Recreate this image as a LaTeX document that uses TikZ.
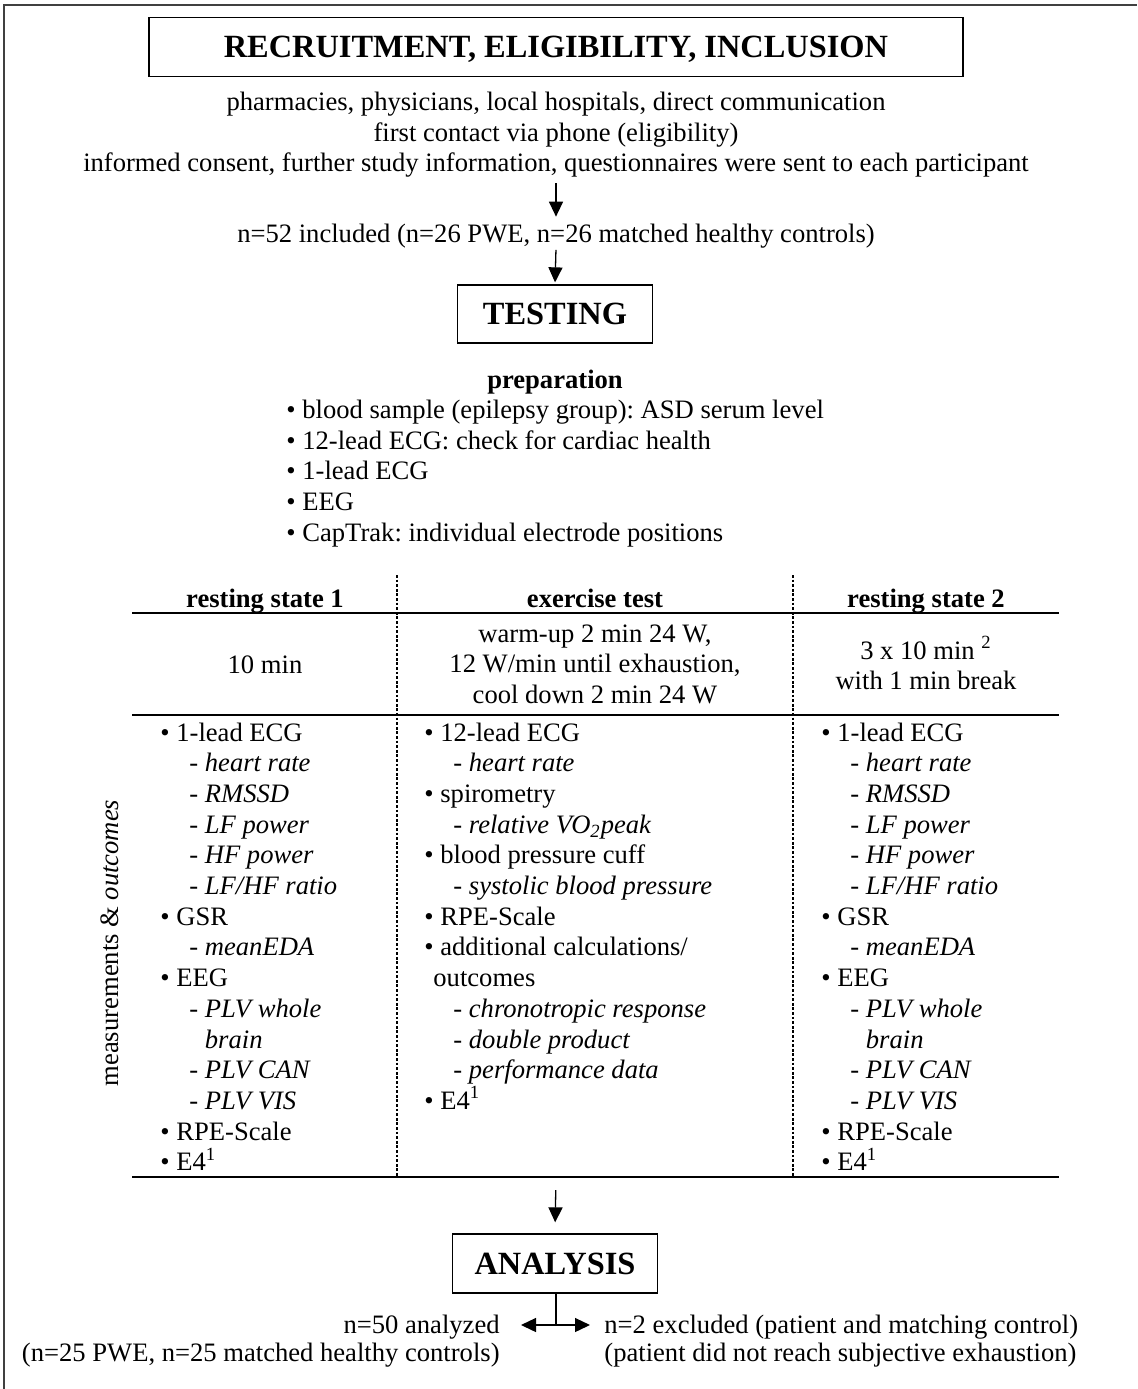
\documentclass[tikz,border=0pt]{standalone}
\usepackage{fontspec}
\setmainfont{Liberation Serif}
\usetikzlibrary{arrows.meta}
\frenchspacing
\newcommand\itB[1]{\textbullet\ #1}
\newcommand\itS[1]{\hspace*{14.5pt}-\ \textit{#1}}
\newcommand\itC[1]{\hspace*{14.5pt}\phantom{-\ }\textit{#1}}
\newcommand\itO[1]{\hspace*{4.5pt}#1}
\begin{document}
\begin{tikzpicture}[x=0.5pt,y=-0.5pt,
  frame/.style={draw=black!75, line width=0.7pt},
  box/.style={draw, line width=0.65pt, inner sep=0pt, font=\fontsize{16.2}{19}\selectfont\bfseries, text height=10.7pt, text depth=0pt},
  body/.style={inner sep=0pt, font=\fontsize{13.3}{15.35}\selectfont\frenchspacing},
  hdr/.style={body, font=\fontsize{13.3}{15.35}\selectfont\bfseries},
  arr/.style={-{Triangle[width=7pt,length=7.5pt]}, line width=0.65pt},
  trule/.style={line width=0.85pt},
  vdots/.style={line width=1pt, dash pattern=on 1.4pt off 0.9pt}]
\useasboundingbox (0,0) rectangle (1137,1389);
% outer frame (only top and left edges visible)
\draw[frame] (4,1389) -- (4,5) -- (1137,5);

% recruitment
\node[box, minimum width=407pt, minimum height=29.5pt] (rec) at (556,47) {RECRUITMENT, ELIGIBILITY, INCLUSION};
\node[body, anchor=base] (r1) at (556,110.5) {pharmacies, physicians, local hospitals, direct communication};
\node[body, anchor=base] (r2) at (556,141) {first contact via phone (eligibility)};
\node[body, anchor=base] (r3) at (556,171.5) {informed consent, further study information, questionnaires were sent to each participant};
\node[body, anchor=base] (n52) at (556,242.5) {n=52 included (n=26 PWE, n=26 matched healthy controls)};
\draw[arr, shorten <=2.9pt, shorten >=3.5pt] (r3.south) -- (n52.north);

% testing
\node[box, minimum width=97.5pt, minimum height=29pt] (test) at (555,314) {TESTING};
\draw[arr, shorten <=0.6pt, shorten >=1pt] (n52.south) -- (test.north);

\node[hdr, anchor=base] (prep) at (555,388) {preparation};
\foreach \t [count=\i] in {{blood sample (epilepsy group): ASD serum level},{12-lead ECG: check for cardiac health},{1-lead ECG},{EEG},{CapTrak: individual electrode positions}}
  \node[body, anchor=base west] (p\i) at (286,{418.5+(\i-1)*30.7}) {\itB{\t}};

% table
\coordinate (tl1) at (132,613); \coordinate (tr1) at (1059,613);
\coordinate (tl2) at (132,715); \coordinate (tr2) at (1059,715);
\coordinate (tl3) at (132,1177); \coordinate (tr3) at (1059,1177);
\coordinate (d1t) at (397,575); \coordinate (d1b) at (397,1177);
\coordinate (d2t) at (793,575); \coordinate (d2b) at (793,1177);
\draw[trule] (tl1) -- (tr1);
\draw[trule] (tl2) -- (tr2);
\draw[trule] (tl3) -- (tr3);
\draw[vdots] (d1t) -- (d1b);
\draw[vdots] (d2t) -- (d2b);

\node[hdr, anchor=base] (h1) at (265,607) {resting state 1};
\node[hdr, anchor=base] (h2) at (595,607) {exercise test};
\node[hdr, anchor=base] (h3) at (926,607) {resting state 2};

\node[body, anchor=base] (d1) at (265,673) {10 min};
\node[body, anchor=base] (e1) at (595,642) {warm-up 2 min 24 W,};
\node[body, anchor=base] (e2) at (595,672.7) {12 W/min until exhaustion,};
\node[body, anchor=base] (e3) at (595,703.4) {cool down 2 min 24 W};
\node[body, anchor=base] (f1) at (926,659) {3 x 10 min \textsuperscript{2}};
\node[body, anchor=base] (f2) at (926,689.5) {with 1 min break};

\foreach \t [count=\i] in {{\itB{1-lead ECG}},{\itS{heart rate}},{\itS{RMSSD}},{\itS{LF power}},{\itS{HF power}},{\itS{LF/HF ratio}},{\itB{GSR}},{\itS{meanEDA}},{\itB{EEG}},{\itS{PLV whole}},{\itC{brain}},{\itS{PLV CAN}},{\itS{PLV VIS}},{\itB{RPE-Scale}},{\itB{E4\textsuperscript{1}}}}
{
  \node[body, anchor=base west] (a\i) at (160,{741+(\i-1)*30.7}) {\t};
  \node[body, anchor=base west] (c\i) at (821,{741+(\i-1)*30.7}) {\t};
}
\foreach \t [count=\i] in {{\itB{12-lead ECG}},{\itS{heart rate}},{\itB{spirometry}},{\itS{relative VO\textsubscript{2}peak}},{\itB{blood pressure cuff}},{\itS{systolic blood pressure}},{\itB{RPE-Scale}},{\itB{additional calculations/}},{\itO{outcomes}},{\itS{chronotropic response}},{\itS{double product}},{\itS{performance data}},{\itB{E4\textsuperscript{1}}}}
  \node[body, anchor=base west] (b\i) at (424,{741+(\i-1)*30.7}) {\t};

\node[body, rotate=90] (lbl) at (110,943) {measurements \& \textit{outcomes}};

% analysis
\coordinate (tbm) at (556,1177);
\node[box, minimum width=102.5pt, minimum height=29.5pt] (ana) at (555,1263.5) {ANALYSIS};
\draw[arr, shorten <=6.5pt, shorten >=5.5pt] (tbm) -- (ana.north);
\coordinate (split) at (556,1325);
\coordinate (tipL) at (521,1325);
\coordinate (tipR) at (590,1325);
\draw[line width=0.65pt] (ana.south -| split) -- (split);
\draw[arr] (split) -- (tipL);
\draw[arr] (split) -- (tipR);
\node[body, anchor=base east] (n50) at (500,1333) {n=50 analyzed};
\node[body, anchor=base east] (n50b) at (500,1361.5) {(n=25 PWE, n=25 matched healthy controls)};
\node[body, anchor=base west] (n2) at (604,1333) {n=2 excluded (patient and matching control)};
\node[body, anchor=base west] (n2b) at (604,1361.5) {(patient did not reach subjective exhaustion)};
\end{tikzpicture}
\end{document}
